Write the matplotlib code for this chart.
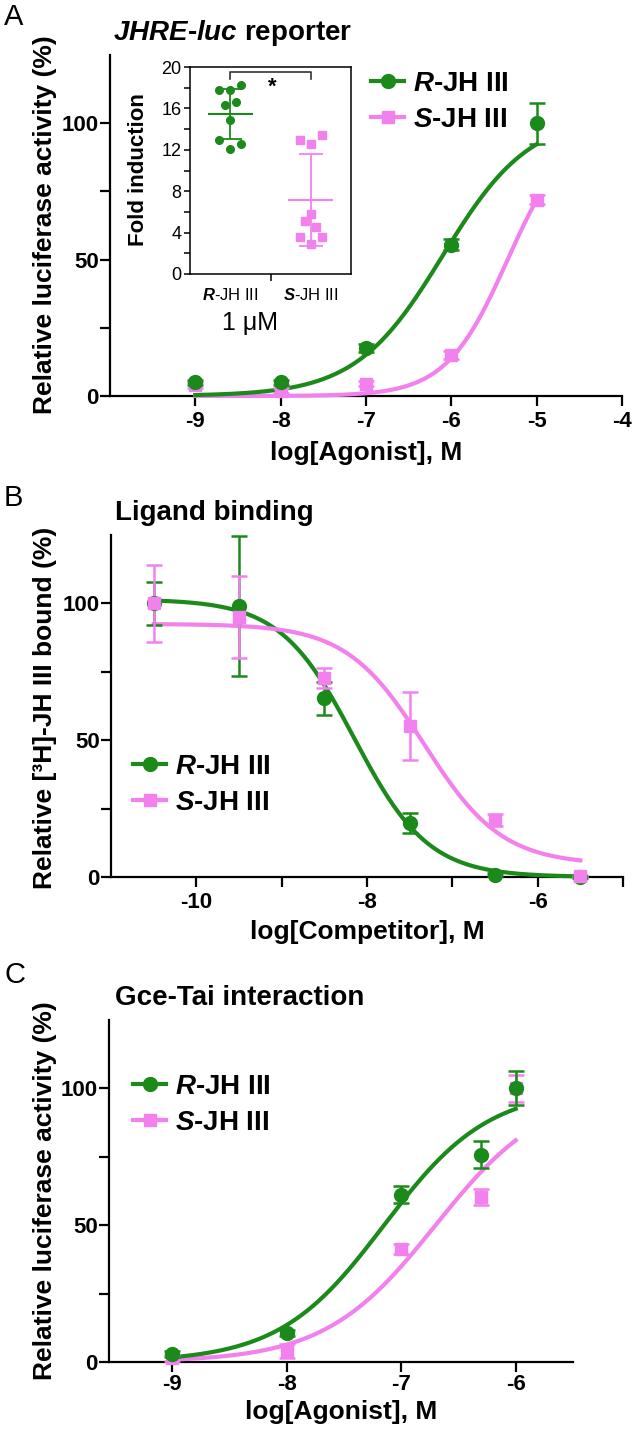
import numpy as np
import matplotlib
matplotlib.use('Agg')
import matplotlib.pyplot as plt
from matplotlib.lines import Line2D

plt.rcParams['font.family'] = ['Liberation Sans', 'DejaVu Sans']
plt.rcParams['font.weight'] = 'bold'
plt.rcParams['mathtext.fontset'] = 'custom'
plt.rcParams['mathtext.it'] = 'Liberation Sans:bold:italic'
plt.rcParams['mathtext.rm'] = 'Liberation Sans:bold'
plt.rcParams['mathtext.bf'] = 'Liberation Sans:bold'
plt.rcParams['mathtext.sf'] = 'Liberation Sans:italic'

GREEN = '#1b8a1b'
PINK = '#f281ee'
W, H = 633, 1433

# ---- panel A: JHRE-luc reporter ----
a_x = [-9, -8, -7, -6, -5]
a_r = [5, 5, 17.5, 55.5, 100]
a_r_err = [1, 1, 1.5, 2, 7.5]
a_s = [4, 2, 4.5, 15, 72]
a_s_err = [1, 1, 1, 1.5, 1.5]
a_r_fit = [0, 103, -6.1, 0.85]     # bottom, top, logEC50, hill
a_s_fit = [0, 100, -5.34, 1.2]

# inset: fold induction at 1 uM
inset_cats = ['R', 'S']
fold_r = [18.3, 17.8, 17.8, 16.6, 16.3, 14.9, 12.9, 12.6, 12.1]
fold_r_slot = [1, -1, 0, 0.5, -0.5, 0, -1, 1, 0]
fold_s = [12.9, 12.6, 13.4, 5.8, 5.1, 4.5, 3.6, 3.6, 2.9]
fold_s_slot = [-1, 0, 1, 0, -0.5, 0.5, -1, 1, 0]

# ---- panel B: ligand binding ----
b_r_x = [-10.5, -9.5, -8.5, -7.5, -6.5, -5.5]
b_r = [100, 99, 65.3, 19.7, 0.9, 0]
b_r_err = [7.9, 25.5, 6, 3.7, 0.5, 0.3]
b_s_x = [-10.5, -9.5, -8.5, -7.5, -6.5, -5.5]
b_s = [100, 95, 72.6, 55.2, 20.9, 0.2]
b_s_err = [14, 15, 3.7, 12.4, 2.2, 0.3]
b_r_fit = [0, 101.5, -8.15, -1.0]
b_s_fit = [4.5, 92.5, -7.33, -0.95]

# ---- panel C: Gce-Tai interaction ----
c_x = [-9, -8, -7, -6.3, -6]
c_r = [3.0, 10.6, 61.2, 75.8, 100]
c_r_err = [1, 1, 3, 5, 6.2]
c_s = [1.5, 3.9, 41.3, 60.3, 100]
c_s_err = [1, 2.5, 2, 3, 5]
c_r_fit = [0, 100, -7.15, 0.95]
c_s_fit = [0, 100, -6.7, 0.9]


def hill(x, p):
    bottom, top, c, h = p
    return bottom + (top - bottom) / (1 + 10 ** ((c - x) * h))


fig = plt.figure(figsize=(W / 100, H / 100), dpi=100)


def px_axes(l, r, t, b):
    return fig.add_axes([l / W, 1 - b / H, (r - l) / W, (b - t) / H])


def ftext(x, y, s, **kw):
    return fig.text(x / W, 1 - y / H, s, **kw)


def style(ax, xlim, xticks, xlabels):
    for s in ['top', 'right']:
        ax.spines[s].set_visible(False)
    for s in ['left', 'bottom']:
        ax.spines[s].set_linewidth(1.6)
    ax.set_xlim(*xlim)
    ax.set_ylim(0, 125)
    ax.set_xticks(xticks)
    ax.set_xticklabels(xlabels)
    ax.set_yticks([0, 50, 100])
    ax.set_yticks([25, 75], minor=True)
    ax.tick_params(which='both', length=7, width=1.6, labelsize=16)
    ax.tick_params(axis='y', pad=1)
    ax.tick_params(axis='x', pad=4)


def series(ax, x, y, err, fit, color, marker, ms, xr):
    xs = np.linspace(xr[0], xr[1], 300)
    ax.plot(xs, hill(xs, fit), color=color, lw=3, clip_on=False, zorder=3)
    ax.errorbar(x, y, yerr=err, fmt='none', ecolor=color, elinewidth=1.8,
                capsize=6, capthick=1.8, clip_on=False, zorder=4)
    ax.plot(x, y, ls='none', marker=marker, ms=ms, color=color,
            clip_on=False, zorder=5)


def legend(ax, x, y):
    hs = [Line2D([], [], color=GREEN, lw=3, marker='o', ms=10),
          Line2D([], [], color=PINK, lw=3, marker='s', ms=9)]
    ax.legend(hs, [r'$\mathit{R}$-JH III', r'$\mathit{S}$-JH III'],
              loc='upper left', bbox_to_anchor=(x / W, 1 - y / H),
              bbox_transform=fig.transFigure, frameon=False, borderpad=0,
              borderaxespad=0, handlelength=1.2, handletextpad=0.3,
              labelspacing=0.35, numpoints=1,
              prop={'size': 20, 'weight': 'bold'})


# Panel A
axA = px_axes(110, 622, 55, 396)
style(axA, (-10, -4), [-9, -8, -7, -6, -5, -4], ['-9', '-8', '-7', '-6', '-5', '-4'])
series(axA, a_x, a_s, a_s_err, a_s_fit, PINK, 's', 9, (-9, -5))
series(axA, a_x, a_r, a_r_err, a_r_fit, GREEN, 'o', 10, (-9, -5))
legend(axA, 371, 71)
ftext(45, 225, 'Relative luciferase activity (%)', rotation=90, size=19,
      ha='center', va='center')
ftext(366, 453, 'log[Agonist], M', size=19, ha='center', va='center')
ftext(113, 33, r'$\mathit{JHRE}$-$\mathit{luc}$ reporter', size=20, va='center')
ftext(4, 17, 'A', size=21, weight='normal', va='center')

# inset
axI = px_axes(190, 351, 67, 274)
for s in axI.spines.values():
    s.set_linewidth(1.1)
axI.set_xlim(-0.5, 1.5)
axI.set_ylim(0, 20)
axI.set_yticks(range(0, 21, 4))
axI.set_yticks(range(2, 20, 4), minor=True)
axI.set_yticklabels([str(v) for v in range(0, 21, 4)], weight='normal')
axI.set_xticks([0, 1])
axI.set_xticklabels([r'$\mathsf{%s}$-JH III' % c for c in inset_cats],
                    weight='normal', size=12)
axI.set_xticks([0.5], minor=True)
axI.tick_params(axis='y', which='both', length=4, width=1.1, labelsize=13, pad=2)
axI.tick_params(axis='x', which='major', length=0, pad=9)
axI.tick_params(axis='x', which='minor', length=5, width=1.1)
for i, (vals, slots, color, marker) in enumerate(
        [(fold_r, fold_r_slot, GREEN, 'o'), (fold_s, fold_s_slot, PINK, 's')]):
    vals = np.array(vals)
    xs = i + 0.137 * np.array(slots)
    m, sd = vals.mean(), vals.std(ddof=1)
    axI.plot(xs, vals, ls='none', marker=marker, ms=5.5, color=color, zorder=3)
    axI.hlines(m, i - 0.28, i + 0.28, color=color, lw=1.5)
    axI.errorbar(i, m, yerr=sd, fmt='none', ecolor=color, elinewidth=1.3,
                 capsize=8.5, capthick=1.3)
axI.plot([0, 0, 1, 1], [18.8, 19.5, 19.5, 18.8], color='#333333', lw=1.2)
axI.text(0.52, 18.0, '*', size=16, ha='center', va='center')
ftext(139, 170, 'Fold induction', rotation=90, size=16, ha='center', va='center')
ftext(250, 323, '1 \u03bcM', size=18, weight='normal', ha='center', va='center')

# Panel B
axB = px_axes(111, 623, 535, 877)
style(axB, (-11, -5), [-10, -9, -8, -7, -6, -5], ['-10', '', '-8', '', '-6', ''])
series(axB, b_r_x, b_r, b_r_err, b_r_fit, GREEN, 'o', 10, (-10.5, -5.5))
series(axB, b_s_x, b_s, b_s_err, b_s_fit, PINK, 's', 9, (-10.5, -5.5))
legend(axB, 133, 754)
ftext(45, 708, 'Relative [\u00b3H]-JH III bound (%)', rotation=90, size=19,
      ha='center', va='center')
ftext(367, 932, 'log[Competitor], M', size=19, ha='center', va='center')
ftext(115, 513, 'Ligand binding', size=20, va='center')
ftext(4, 498, 'B', size=21, weight='normal', va='center')

# Panel C
axC = px_axes(109, 573, 1020, 1362)
style(axC, (-9.55, -5.5), [-9, -8, -7, -6], ['-9', '-8', '-7', '-6'])
axC.tick_params(axis='x', pad=2)
series(axC, c_x, c_s, c_s_err, c_s_fit, PINK, 's', 9, (-9, -6))
series(axC, c_x, c_r, c_r_err, c_r_fit, GREEN, 'o', 10, (-9, -6))
legend(axC, 133, 1074)
ftext(45, 1191, 'Relative luciferase activity (%)', rotation=90, size=19,
      ha='center', va='center')
ftext(341, 1412, 'log[Agonist], M', size=19, ha='center', va='center')
ftext(115, 998, 'Gce-Tai interaction', size=20, va='center')
ftext(4, 975, 'C', size=21, weight='normal', va='center')

fig.savefig('out.png', dpi=100)
